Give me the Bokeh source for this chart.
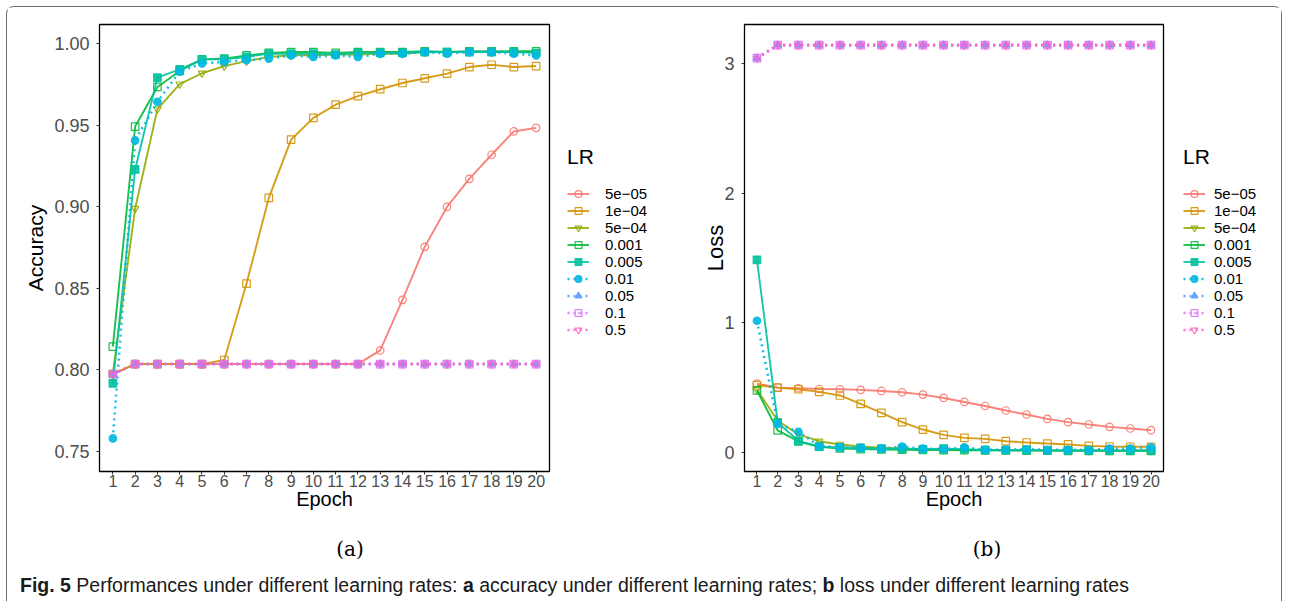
from bokeh.plotting import figure
from bokeh.models import Legend, LegendItem, FixedTicker, NumeralTickFormatter, Range1d, Div
from bokeh.layouts import column, row
from bokeh.embed import file_html
from bokeh.resources import INLINE

# ---------------- data ----------------
epochs = list(range(1, 21))
lr_labels = ["5e\u221205", "1e\u221204", "5e\u221204", "0.001", "0.005", "0.01", "0.05", "0.1", "0.5"]

acc_5e05 = [0.7975, 0.8036, 0.8036, 0.8036, 0.8036, 0.8036, 0.8036, 0.8036, 0.8036, 0.8036,
            0.8036, 0.8036, 0.812, 0.843, 0.8755, 0.900, 0.9172, 0.932, 0.9463, 0.9485]
acc_1e04 = [0.7975, 0.8036, 0.8036, 0.8036, 0.8036, 0.8061, 0.853, 0.9055, 0.9413, 0.9546,
            0.9627, 0.968, 0.9722, 0.976, 0.9789, 0.9818, 0.9858, 0.9872, 0.9858, 0.9864]
acc_5e04 = [0.798, 0.899, 0.960, 0.9753, 0.982, 0.9864, 0.9894, 0.992, 0.993, 0.993,
            0.9935, 0.9935, 0.994, 0.994, 0.995, 0.995, 0.995, 0.995, 0.995, 0.995]
acc_0001 = [0.8143, 0.9493, 0.9736, 0.9834, 0.9905, 0.991, 0.9929, 0.9945, 0.995, 0.995,
            0.9945, 0.995, 0.995, 0.995, 0.9955, 0.995, 0.9955, 0.9955, 0.9955, 0.9955]
acc_0005 = [0.7918, 0.923, 0.9793, 0.9844, 0.9905, 0.9905, 0.992, 0.994, 0.994, 0.994,
            0.9935, 0.9945, 0.9945, 0.9945, 0.995, 0.995, 0.995, 0.995, 0.995, 0.9945]
acc_001 = [0.758, 0.9408, 0.9645, 0.983, 0.988, 0.989, 0.990, 0.991, 0.993, 0.992,
           0.993, 0.992, 0.994, 0.994, 0.995, 0.994, 0.995, 0.995, 0.994, 0.993]
acc_005 = [0.7975] + [0.8036] * 19
acc_01 = [0.7975] + [0.8036] * 19
acc_05 = [0.7975] + [0.8036] * 19

loss_5e05 = [0.532, 0.501, 0.496, 0.490, 0.488, 0.483, 0.475, 0.465, 0.447, 0.421,
             0.390, 0.359, 0.324, 0.293, 0.259, 0.234, 0.216, 0.198, 0.185, 0.172]
loss_1e04 = [0.519, 0.501, 0.488, 0.468, 0.440, 0.375, 0.306, 0.234, 0.177, 0.136,
             0.113, 0.105, 0.087, 0.077, 0.069, 0.062, 0.051, 0.046, 0.044, 0.044]
loss_5e04 = [0.486, 0.245, 0.140, 0.087, 0.062, 0.046, 0.036, 0.031, 0.025, 0.022,
             0.020, 0.019, 0.018, 0.017, 0.016, 0.016, 0.015, 0.015, 0.015, 0.015]
loss_0001 = [0.480, 0.170, 0.085, 0.044, 0.031, 0.026, 0.023, 0.021, 0.019, 0.018,
             0.017, 0.016, 0.015, 0.014, 0.014, 0.013, 0.013, 0.012, 0.012, 0.012]
loss_0005 = [1.488, 0.230, 0.090, 0.045, 0.040, 0.035, 0.030, 0.030, 0.025, 0.030,
             0.025, 0.020, 0.020, 0.020, 0.015, 0.015, 0.015, 0.015, 0.015, 0.015]
loss_001 = [1.017, 0.220, 0.160, 0.050, 0.040, 0.035, 0.030, 0.045, 0.030, 0.025,
            0.040, 0.020, 0.020, 0.025, 0.020, 0.020, 0.020, 0.030, 0.030, 0.040]
loss_005 = [3.045] + [3.146] * 19
loss_01 = [3.045] + [3.146] * 19
loss_05 = [3.045] + [3.146] * 19

acc_series = [acc_5e05, acc_1e04, acc_5e04, acc_0001, acc_0005, acc_001, acc_005, acc_01, acc_05]
loss_series = [loss_5e05, loss_1e04, loss_5e04, loss_0001, loss_0005, loss_001, loss_005, loss_01, loss_05]

acc_ticks = [0.75, 0.80, 0.85, 0.90, 0.95, 1.00]
loss_ticks = [0, 1, 2, 3]

# ---------------- styles ----------------
colors = ["#F8766D", "#D39200", "#93AA00", "#00BA38", "#00C19F", "#00B9E3", "#619CFF", "#DB72FB", "#FF61C3"]
markers = ["circle", "square", "inverted_triangle", "square", "square", "circle", "triangle", "square_dot", "inverted_triangle"]
filled = [False, False, False, False, True, True, True, False, False]
dashes = ["solid"] * 5 + ["2 4"] * 4

SANS = "Liberation Sans"
FRAME_H = 447
FIG_H = 17 + FRAME_H + 58


def add_series(p, series):
    out = []
    for vals, c, m, f, d in zip(series, colors, markers, filled, dashes):
        lw = 1.9 if d == "solid" else 2.6
        rl = p.line(epochs, vals, line_color=c, line_width=lw, line_dash=d, line_alpha=0.9)
        rs = p.scatter(epochs, vals, marker=m, size=7.5, line_color=c, line_width=1.2,
                       fill_color=c if f else None, line_alpha=0.9, fill_alpha=0.9)
        out.append((rl, rs))
    return out


def make_fig(series, yrange, yticks, ylabel, yfmt, frame_w, mb_left, ylab_standoff, ylab_size):
    p = figure(frame_width=frame_w, frame_height=FRAME_H, x_range=Range1d(0.4, 20.6), y_range=Range1d(*yrange),
               output_backend="svg", toolbar_location=None,
               min_border_left=mb_left, min_border_right=5, min_border_top=17, min_border_bottom=58)
    p.xgrid.visible = False
    p.ygrid.visible = False
    p.outline_line_color = "black"
    p.outline_line_width = 1.3
    p.background_fill_color = "white"
    p.border_fill_color = "white"
    add_series(p, series)

    for ax in (p.xaxis, p.yaxis):
        ax.axis_line_color = None
        ax.major_tick_line_color = "#333333"
        ax.major_tick_out = 3
        ax.major_tick_in = 0
        ax.minor_tick_line_color = None
        ax.major_label_text_font = SANS
        ax.major_label_text_color = "#4D4D4D"
        ax.axis_label_text_font = SANS
        ax.axis_label_text_font_style = "normal"
        ax.axis_label_text_color = "black"

    p.xaxis.ticker = FixedTicker(ticks=epochs)
    p.xaxis.major_label_text_font_size = "16px"
    p.xaxis.major_label_standoff = 0
    p.xaxis.axis_label = "Epoch"
    p.xaxis.axis_label_text_font_size = "20px"
    p.xaxis.axis_label_standoff = -2

    p.yaxis.ticker = FixedTicker(ticks=yticks)
    p.yaxis.formatter = NumeralTickFormatter(format=yfmt)
    p.yaxis.major_label_text_font_size = "18px"
    p.yaxis.major_label_standoff = 7
    p.yaxis.axis_label = ylabel
    p.yaxis.axis_label_text_font_size = ylab_size
    p.yaxis.axis_label_standoff = ylab_standoff
    return p


def make_legend_fig(series, width, left, standoff):
    # the legend's own panel: the series are drawn here too, but outside its visible range
    q = figure(width=width, height=FIG_H, x_range=Range1d(-100, -99), y_range=Range1d(-100, -99),
               output_backend="svg", toolbar_location=None, x_axis_type=None, y_axis_type=None,
               min_border=0)
    q.xgrid.visible = False
    q.ygrid.visible = False
    q.outline_line_color = None
    q.background_fill_color = "white"
    q.border_fill_color = "white"
    rend = add_series(q, series)
    items = [LegendItem(label=lab, renderers=[rl, rs]) for lab, (rl, rs) in zip(lr_labels, rend)]
    leg = Legend(items=items, title="LR", location=(left, 127))
    leg.title_text_font = SANS
    leg.title_text_font_size = "21px"
    leg.title_text_font_style = "normal"
    leg.title_text_color = "black"
    leg.title_standoff = 16
    leg.label_text_font = SANS
    leg.label_text_font_size = "15px"
    leg.label_text_color = "black"
    leg.glyph_width = 22
    leg.glyph_height = 17
    leg.label_height = 17
    leg.label_standoff = standoff
    leg.spacing = 0
    leg.padding = 6
    leg.margin = 0
    leg.background_fill_alpha = 0
    leg.border_line_alpha = 0
    q.add_layout(leg, "center")
    return q


p1 = make_fig(acc_series, (0.7377, 1.0119), acc_ticks, "Accuracy", "0.00", 450, 92, 4, "21px")
lg1 = make_legend_fig(acc_series, 135, 7, 16)
p2 = make_fig(loss_series, (-0.147, 3.305), loss_ticks, "Loss", "0", 419, 55, -7, "22px")
lg2 = make_legend_fig(loss_series, 113, 9, 9)

serif = {"font-family": "'DejaVu Serif', 'Liberation Serif', serif", "font-size": "20px",
         "text-align": "center", "line-height": "40px", "color": "black"}
div_a = Div(text="(a)", width=686, height=40, margin=0, styles=serif)
div_b = Div(text="(b)", width=588, height=40, margin=0, styles=serif)
div_cap = Div(text="<b>Fig. 5</b> Performances under different learning rates: <b>a</b> accuracy under "
                   "different learning rates; <b>b</b> loss under different learning rates",
              width=1260, height=32, margin=0,
              styles={"font-family": "'Liberation Sans', sans-serif",
                      "font-size": "19.5px", "padding-left": "13px", "line-height": "32px", "color": "#1a1a1a"})

layout = column(row(p1, lg1, p2, lg2), row(div_a, div_b), div_cap, margin=(6, 0, 0, 6),
                styles={"border": "1px solid #707070", "border-bottom": "none", "border-radius": "8px 8px 0 0"})

open("out.html", "w").write(file_html(layout, INLINE))
